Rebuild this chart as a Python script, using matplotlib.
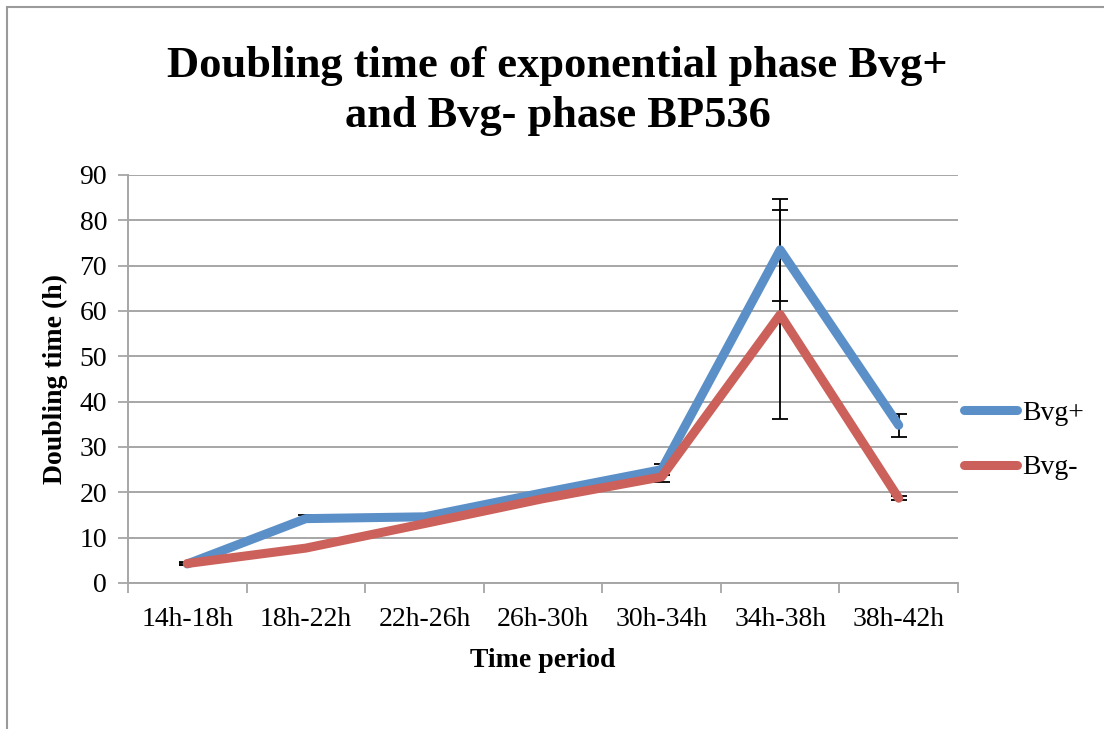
import matplotlib
import matplotlib.pyplot as plt
import numpy as np

matplotlib.use("Agg")

# data
periods = ["14h-18h", "18h-22h", "22h-26h", "26h-30h", "30h-34h", "34h-38h", "38h-42h"]
bvg_plus = [4.2, 14.2, 14.6, 19.9, 25.0, 73.5, 34.8]
bvg_plus_err = [0.3, 0.8, 0.5, 0.5, 1.2, 11.2, 2.5]
bvg_minus = [4.3, 7.7, 13.1, 18.6, 23.4, 59.2, 18.7]
bvg_minus_err = [0.3, 0.3, 0.3, 0.3, 1.2, 23.0, 0.4]

BLUE = "#5b8fc8"
RED = "#cb615a"
GRID = "#a6a6a6"
FONT = "Liberation Serif"

plt.rcParams["font.family"] = [FONT, "DejaVu Serif"]

fig = plt.figure(figsize=(11.04, 7.29), dpi=100)
ax = fig.add_axes([128 / 1104, 1 - 583 / 729, (958 - 128) / 1104, (583 - 175) / 729])

x = np.arange(len(periods))
ax.errorbar(x, bvg_plus, yerr=bvg_plus_err, fmt="none", ecolor="black",
            elinewidth=1.3, capsize=5.5, capthick=1.3, zorder=2)
ax.errorbar(x, bvg_minus, yerr=bvg_minus_err, fmt="none", ecolor="black",
            elinewidth=1.3, capsize=5.5, capthick=1.3, zorder=2)
ax.plot(x, bvg_plus, color=BLUE, linewidth=6.5, solid_capstyle="round",
        solid_joinstyle="round", label="Bvg+", zorder=3)
ax.plot(x, bvg_minus, color=RED, linewidth=6.5, solid_capstyle="round",
        solid_joinstyle="round", label="Bvg-", zorder=4)

ax.set_xlim(-0.5, len(periods) - 0.5)
ax.set_ylim(0, 90)
ax.set_yticks(np.arange(0, 91, 10))
ax.set_xticks(x)
ax.set_xticklabels(periods)
ax.set_xticks(np.arange(-0.5, len(periods), 1.0), minor=True)
ax.tick_params(axis="x", which="major", length=0, pad=17, labelsize=20)
ax.tick_params(axis="x", which="minor", length=7, color=GRID, width=1.3)
ax.tick_params(axis="y", length=7, color=GRID, width=1.3, pad=8, labelsize=20)
ax.yaxis.grid(True, color=GRID, linewidth=1.4)
ax.set_axisbelow(True)
for side in ("top", "right"):
    ax.spines[side].set_visible(False)
for side in ("left", "bottom"):
    ax.spines[side].set_color(GRID)
    ax.spines[side].set_linewidth(1.4)

ax.set_ylabel("Doubling time (h)", fontsize=20, fontweight="bold", labelpad=8)
ax.set_xlabel("Time period", fontsize=20, fontweight="bold", labelpad=12)

fig.text(0.505, 0.875, "Doubling time of exponential phase Bvg+\nand Bvg- phase BP536",
         ha="center", va="center", fontsize=32, fontweight="bold", linespacing=1.3)

ax.legend(loc="center left", bbox_to_anchor=(0.977, 0.35), frameon=False,
          fontsize=20, handlelength=1.9, handletextpad=0.2, labelspacing=1.05)

# chart area border
fig.add_artist(plt.Rectangle((7 / 1104, -0.05), 1.2, 1 - 7 / 729 + 0.05,
                             transform=fig.transFigure, fill=False,
                             edgecolor="#9a9a9a", linewidth=1.5))

fig.savefig("out.png", dpi=100)
